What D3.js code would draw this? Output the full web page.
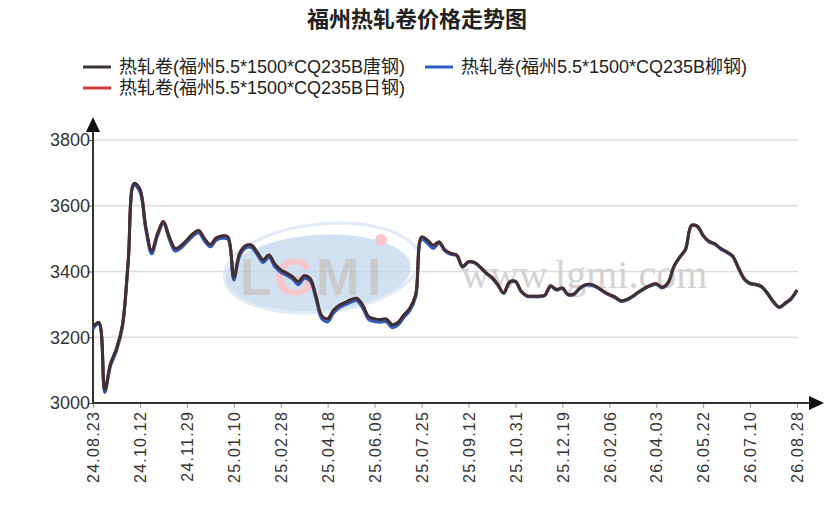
<!DOCTYPE html>
<html>
<head>
<meta charset="utf-8">
<script src="https://cdn.jsdelivr.net/npm/d3@7"></script>
<style>
    body { margin: 0; background: #fff; }
    text { font-family: "Liberation Sans", Arial, "Noto Sans CJK SC", sans-serif; }
</style>
</head>
<body>
<div id="chart"></div>
<script>
// tick labels on the x axis, one every 8 data points
const tickLabels = ['24.08.23', '24.10.12', '24.11.29', '25.01.10', '25.02.28', '25.04.18', '25.06.06', '25.07.25',
    '25.09.12', '25.10.31', '25.12.19', '26.02.06', '26.04.03', '26.05.22', '26.07.10', '26.08.28'];
const pointsPerTick = 8;

const seriesNames = ['热轧卷(福州5.5*1500*CQ235B唐钢)', '热轧卷(福州5.5*1500*CQ235B柳钢)', '热轧卷(福州5.5*1500*CQ235B日钢)'];
const seriesColors = ['#3a3236', '#2f5cc0', '#d23a3a'];

const tangGang = [3232, 3245, 3040, 3120, 3165, 3235, 3432, 3668, 3650, 3535,
    3462, 3515, 3552, 3505, 3470, 3478, 3496, 3514, 3525, 3500,
    3482, 3502, 3508, 3505, 3382, 3455, 3478, 3480, 3458, 3435,
    3450, 3422, 3405, 3395, 3384, 3369, 3387, 3379, 3325, 3265,
    3256, 3282, 3297, 3306, 3314, 3318, 3296, 3262, 3256, 3254,
    3255, 3238, 3245, 3268, 3288, 3330, 3505, 3495, 3480, 3490,
    3465, 3455, 3450, 3415, 3430, 3428, 3414, 3396, 3382, 3360,
    3335, 3368, 3370, 3340, 3326, 3325, 3325, 3328, 3356, 3345,
    3350, 3330, 3332, 3350, 3360, 3360, 3352, 3340, 3330, 3322,
    3311, 3315, 3325, 3338, 3349, 3358, 3363, 3352, 3365, 3415,
    3444, 3468, 3540, 3538, 3510, 3492, 3484, 3470, 3460, 3448,
    3412, 3378, 3364, 3361, 3354, 3333, 3308, 3292, 3304, 3318, 3344];

const liuGang = [3226, 3240, 3032, 3113, 3158, 3228, 3425, 3662, 3642, 3527,
    3454, 3508, 3546, 3498, 3462, 3471, 3489, 3507, 3518, 3493,
    3475, 3495, 3501, 3498, 3374, 3447, 3471, 3473, 3451, 3427,
    3443, 3414, 3398, 3388, 3377, 3360, 3379, 3371, 3317, 3256,
    3247, 3274, 3290, 3299, 3307, 3311, 3288, 3254, 3248, 3246,
    3247, 3229, 3237, 3260, 3281, 3322, 3498, 3486, 3470, 3486,
    3462, 3452, 3448, 3413, 3428, 3426, 3412, 3394, 3380, 3358,
    3333, 3366, 3368, 3338, 3324, 3323, 3323, 3326, 3354, 3343,
    3348, 3328, 3330, 3348, 3358, 3358, 3350, 3338, 3328, 3320,
    3309, 3313, 3323, 3336, 3347, 3356, 3361, 3350, 3363, 3413,
    3442, 3466, 3538, 3536, 3508, 3490, 3482, 3468, 3458, 3446,
    3410, 3376, 3362, 3359, 3352, 3331, 3306, 3290, 3302, 3316, 3342];

const riGang = [3232, 3245, 3040, 3120, 3165, 3235, 3432, 3668, 3650, 3535,
    3462, 3515, 3552, 3505, 3470, 3478, 3496, 3514, 3525, 3500,
    3482, 3502, 3508, 3505, 3382, 3455, 3478, 3480, 3458, 3435,
    3450, 3422, 3405, 3395, 3384, 3369, 3387, 3379, 3325, 3265,
    3256, 3282, 3297, 3306, 3314, 3318, 3296, 3262, 3256, 3254,
    3255, 3238, 3245, 3268, 3288, 3330, 3505, 3495, 3480, 3490,
    3465, 3455, 3450, 3415, 3430, 3428, 3414, 3396, 3382, 3360,
    3335, 3368, 3370, 3340, 3326, 3325, 3325, 3328, 3356, 3345,
    3350, 3330, 3332, 3350, 3360, 3360, 3352, 3340, 3330, 3322,
    3311, 3315, 3325, 3338, 3349, 3358, 3363, 3352, 3365, 3415,
    3444, 3468, 3540, 3538, 3510, 3492, 3484, 3470, 3460, 3448,
    3412, 3378, 3364, 3361, 3354, 3333, 3308, 3292, 3304, 3318, 3344];

const yTicks = [3000, 3200, 3400, 3600, 3800];

const W = 830, H = 517;
const margin = { top: 140, right: 33, bottom: 114, left: 93 };

const svg = d3.select('#chart').append('svg')
    .attr('width', W)
    .attr('height', H);

const x = d3.scaleLinear()
    .domain([0, tangGang.length - 1])
    .range([margin.left, W - margin.right]);

const y = d3.scaleLinear()
    .domain([3000, 3800])
    .range([H - margin.bottom, margin.top]);

// title
svg.append('text')
    .attr('x', 417)
    .attr('y', 27)
    .attr('text-anchor', 'middle')
    .style('font-family', '"Noto Sans CJK SC", sans-serif')
    .style('font-size', '22px')
    .style('font-weight', 'bold')
    .attr('fill', '#222')
    .text('福州热轧卷价格走势图');

// legend
const legendPos = [[83, 67], [425, 67], [83, 88]];
seriesNames.forEach((name, i) => {
    const g = svg.append('g').attr('transform', `translate(${legendPos[i][0]}, ${legendPos[i][1]})`);
    g.append('line')
        .attr('x1', 0).attr('x2', 28)
        .attr('stroke', seriesColors[i])
        .attr('stroke-width', 3);
    g.append('text')
        .attr('x', 36)
        .attr('dy', '0.36em')
        .style('font-size', '18px')
        .attr('fill', '#222')
        .text(name);
});

// grid lines
svg.append('g')
    .selectAll('line')
    .data(yTicks.slice(1))
    .enter()
    .append('line')
    .attr('x1', margin.left)
    .attr('x2', x(tangGang.length - 1) + 1)
    .attr('y1', d => y(d))
    .attr('y2', d => y(d))
    .attr('stroke', '#dcdcdc')
    .attr('stroke-width', 1.5);

// watermark
const wm = svg.append('g').attr('opacity', 0.75);
wm.append('ellipse')
    .attr('cx', 318).attr('cy', 273)
    .attr('rx', 93).attr('ry', 38)
    .attr('transform', 'rotate(-4, 318, 273)')
    .attr('fill', '#c3d7ee');
wm.append('ellipse')
    .attr('cx', 322).attr('cy', 268)
    .attr('rx', 98).attr('ry', 44)
    .attr('transform', 'rotate(-6, 322, 268)')
    .attr('fill', 'none')
    .attr('stroke', '#d6e3f3')
    .attr('stroke-width', 3);
const wmLetters = [['L', 240, '#b9b9b9'], ['G', 274, '#f2b5bb'], ['M', 316, '#b9b9b9'], ['I', 367, '#b9b9b9']];
wm.append('text')
    .attr('y', 295)
    .style('font-size', '52px')
    .style('font-weight', 'bold')
    .selectAll('tspan')
    .data(wmLetters)
    .enter()
    .append('tspan')
    .attr('x', d => d[1])
    .attr('fill', d => d[2])
    .text(d => d[0]);
wm.append('circle')
    .attr('cx', 381).attr('cy', 240).attr('r', 6)
    .attr('fill', '#f4b6be');
svg.append('text')
    .attr('x', 461)
    .attr('y', 288)
    .style('font-family', '"Liberation Serif", "DejaVu Serif", serif')
    .style('font-size', '40px')
    .attr('fill', '#d2d2d2')
    .text('www.lgmi.com');

// axes
const xAxis = d3.axisBottom(x)
    .tickValues(d3.range(0, tangGang.length, pointsPerTick))
    .tickSize(5)
    .tickFormat(i => tickLabels[i / pointsPerTick]);

const xg = svg.append('g')
    .attr('transform', `translate(0, ${y(3000)})`)
    .call(xAxis);
xg.select('.domain').remove();
xg.selectAll('line').attr('stroke', '#999');
xg.selectAll('text')
    .attr('transform', 'rotate(-90)')
    .attr('text-anchor', 'end')
    .attr('x', -8)
    .attr('y', 0)
    .attr('dy', '0.36em')
    .style('font-size', '16px')
    .style('letter-spacing', '1.2px')
    .attr('fill', '#333');

const yAxis = d3.axisLeft(y)
    .tickValues(yTicks)
    .tickSize(5)
    .tickPadding(-2)
    .tickFormat(d3.format('d'));

const yg = svg.append('g')
    .attr('transform', `translate(${margin.left}, 0)`)
    .call(yAxis);
yg.select('.domain').remove();
yg.selectAll('line').attr('stroke', '#666');
yg.selectAll('text')
    .style('font-size', '18px')
    .attr('fill', '#333');

// axis lines with arrows
svg.append('line')
    .attr('x1', margin.left).attr('x2', margin.left)
    .attr('y1', y(3000) + 1).attr('y2', 128)
    .attr('stroke', '#333').attr('stroke-width', 2);
svg.append('path')
    .attr('d', `M${margin.left},117 L${margin.left - 7},132 L${margin.left + 7},132 Z`)
    .attr('fill', '#111');
svg.append('line')
    .attr('x1', margin.left).attr('x2', 812)
    .attr('y1', y(3000)).attr('y2', y(3000))
    .attr('stroke', '#333').attr('stroke-width', 2);
svg.append('path')
    .attr('d', `M824,${y(3000)} L809,${y(3000) - 7} L809,${y(3000) + 7} Z`)
    .attr('fill', '#111');

// series lines: blue first, then red, black on top
const line = d3.line()
    .x((d, i) => x(i))
    .y(d => y(d))
    .curve(d3.curveCatmullRom.alpha(0.5));

[[liuGang, seriesColors[1]], [riGang, seriesColors[2]], [tangGang, seriesColors[0]]].forEach(([values, color]) => {
    svg.append('path')
        .datum(values)
        .attr('fill', 'none')
        .attr('stroke', color)
        .attr('stroke-width', 3)
        .attr('stroke-linejoin', 'round')
        .attr('d', line);
});
</script>
</body>
</html>
